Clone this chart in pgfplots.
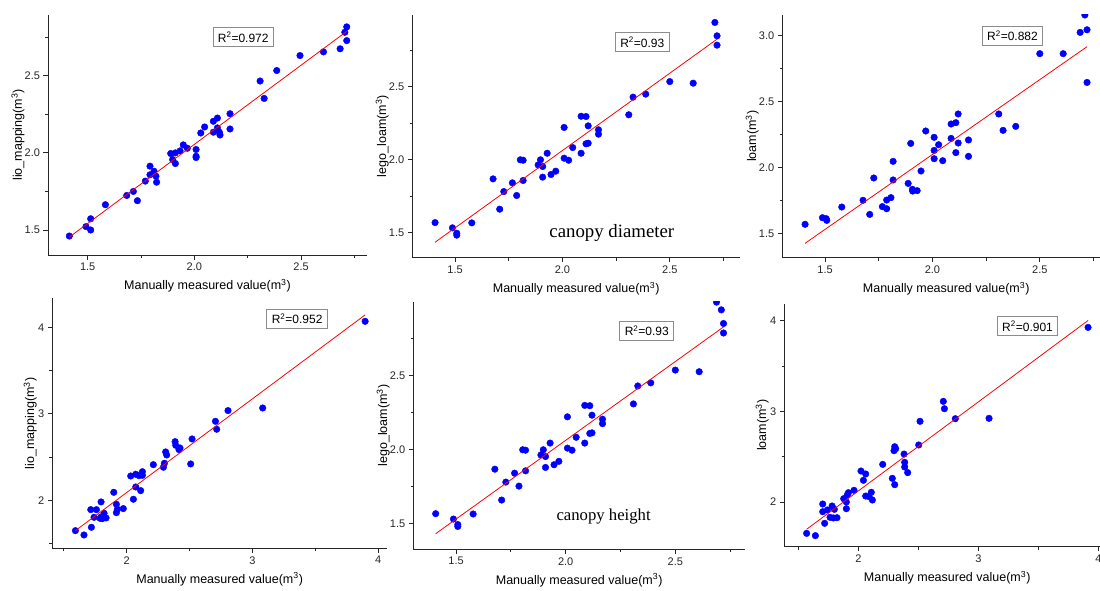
\documentclass[border=0pt]{standalone}
\usepackage{fontspec}
\setmainfont{Liberation Sans}
\newfontfamily\serifont{Liberation Serif}
\usepackage{pgfplots}
\usepackage{pgfplotstable}
\pgfplotsset{compat=1.18}

% lego_loam values, shared by the two middle panels
\pgfplotstableread{
x y
1.407 1.567
1.488 1.531
1.508 1.494
1.508 1.481
1.578 1.565
1.677 1.867
1.708 1.659
1.727 1.780
1.767 1.840
1.787 1.753
1.804 1.998
1.817 1.995
1.817 1.856
1.887 1.963
1.898 1.998
1.908 1.952
1.908 1.879
1.929 2.043
1.947 1.897
1.969 1.920
2.008 2.220
2.008 2.009
2.029 1.995
2.048 2.082
2.087 2.297
2.087 2.043
2.110 2.295
2.110 2.108
2.120 2.231
2.120 2.112
2.168 2.204
2.168 2.174
2.309 2.307
2.329 2.428
2.388 2.449
2.500 2.535
2.609 2.524
2.688 2.993
2.710 2.941
2.720 2.849
2.720 2.785
}\legodata

\newcommand\labfont{\fontsize{12.5}{14}\selectfont}
\newcommand\tickfont{\fontsize{11}{13}\selectfont}

\tikzset{
  rbox/.style={draw=black!45, fill=white, line width=0.8pt, font=\fontsize{12}{14}\selectfont,
    inner xsep=5pt, inner ysep=3pt, minimum height=19pt},
}

\pgfplotsset{
  panel/.style={
    scale only axis, anchor=south west,
    axis x line*=bottom, axis y line*=left,
    axis line style={line width=0.9pt, black!85, -},
    tick align=outside, major tick length=4.5pt, minor tick length=2.8pt,
    every tick/.style={line width=0.8pt, black!85},
    xticklabel style={font=\tickfont, text=black!85},
    yticklabel style={font=\tickfont, text=black!85},
    /pgf/number format/assume math mode=true,
    xlabel={Manually measured value(m\textsuperscript{3})},
    every axis x label/.style={at={(axis description cs:0.5,0)}, anchor=center, yshift=-31pt, font=\labfont},
    clip marker paths=true,
  },
  ylab/.style={every axis y label/.style={at={(axis description cs:0,0.5)}, anchor=center, xshift=#1, rotate=90, font=\labfont}},
  dec/.style={
    xtick={1.5,2.0,2.5}, minor xtick={1.25,1.75,2.25,2.75},
    xticklabel style={/pgf/number format/.cd, fixed, fixed zerofill, precision=1},
    yticklabel style={/pgf/number format/.cd, fixed, fixed zerofill, precision=1},
    ylab=-30pt,
  },
  whole/.style={
    xtick={2,3,4}, minor xtick={1.5,2.5,3.5},
    ytick={2,3,4}, minor ytick={1.5,2.5,3.5},
    ylab=-22pt,
  },
  pts/.style={only marks, mark=*, mark size=3.3pt, color=blue, mark options={draw=blue, fill=blue}},
  fit/.style={red, line width=0.8pt, no marks},
}

\begin{document}
\begin{tikzpicture}
\useasboundingbox (0pt,0pt) rectangle (1100pt,590pt);

% top left
\begin{axis}[panel, dec, at={(48pt,335pt)}, width=319pt, height=240pt,
  xmin=1.314, xmax=2.809, ymin=1.338, ymax=2.894,
  ytick={1.5,2.0,2.5}, minor ytick={1.75,2.25,2.75},
  ylabel={lio\_mapping(m\textsuperscript{3})}]
\addplot[pts] coordinates {
(1.414,1.461) (1.492,1.522) (1.514,1.573) (1.514,1.500) (1.583,1.664)
(1.683,1.724) (1.714,1.750) (1.733,1.690) (1.770,1.817) (1.792,1.914)
(1.792,1.858) (1.811,1.881) (1.820,1.849) (1.823,1.810) (1.889,1.996)
(1.898,1.957) (1.911,2.000) (1.911,1.931) (1.933,2.013) (1.948,2.052)
(1.967,2.030) (2.008,2.022) (2.008,1.978) (2.008,1.970) (2.030,2.129)
(2.048,2.168) (2.089,2.205) (2.089,2.134) (2.108,2.226) (2.108,2.162)
(2.117,2.134) (2.120,2.116) (2.167,2.254) (2.167,2.155) (2.308,2.466)
(2.327,2.353) (2.386,2.534) (2.495,2.631) (2.605,2.655) (2.683,2.675)
(2.705,2.782) (2.714,2.817) (2.714,2.728)
};
\addplot[fit] coordinates {(1.414,1.454) (2.714,2.788)};
\node[rbox] at (axis cs:2.229,2.749) {R\textsuperscript{2}=0.972};
\end{axis}

% top middle
\begin{axis}[panel, dec, at={(412.3pt,332.3pt)}, width=327.7pt, height=242.7pt,
  xmin=1.301, xmax=2.827, ymin=1.326, ymax=2.992,
  ytick={1.5,2.0,2.5}, minor ytick={1.75,2.25,2.75},
  ylabel={lego\_loam(m\textsuperscript{3})}]
\addplot[pts] table[x=x, y=y] {\legodata};
\addplot[fit] coordinates {(1.407,1.432) (2.720,2.826)};
\node[rbox] at (axis cs:2.372,2.805) {R\textsuperscript{2}=0.93};
\node[font=\serifont\fontsize{18.8}{20}\selectfont] at (axis cs:2.23,1.494) {canopy diameter};
\end{axis}

% top right
\begin{axis}[panel, dec, at={(782.3pt,332.3pt)}, width=327.7pt, height=242.7pt,
  xmin=1.301, xmax=2.827, ymin=1.318, ymax=3.157,
  ytick={1.5,2.0,2.5,3.0}, minor ytick={1.75,2.25,2.75},
  ylabel={loam(m\textsuperscript{3})}]
\addplot[pts] coordinates {
(1.407,1.571) (1.488,1.621) (1.505,1.614) (1.508,1.601) (1.578,1.702)
(1.677,1.753) (1.708,1.646) (1.727,1.922) (1.767,1.705) (1.787,1.755)
(1.787,1.689) (1.807,1.773) (1.817,2.048) (1.817,1.907) (1.887,1.881)
(1.899,2.184) (1.907,1.836) (1.908,1.823) (1.929,1.826) (1.947,1.975)
(1.969,2.278) (2.008,2.230) (2.008,2.131) (2.008,2.068) (2.029,2.174)
(2.048,2.053) (2.087,2.331) (2.087,2.222) (2.109,2.341) (2.109,2.114)
(2.120,2.407) (2.120,2.187) (2.168,2.210) (2.168,2.086) (2.309,2.407)
(2.329,2.283) (2.388,2.313) (2.500,2.864) (2.609,2.864) (2.688,3.025)
(2.710,3.157) (2.720,3.045) (2.720,2.646)
};
\addplot[fit] coordinates {(1.407,1.427) (2.720,2.917)};
\node[rbox] at (axis cs:2.373,3.0) {R\textsuperscript{2}=0.882};
\end{axis}

% bottom left
\begin{axis}[panel, whole, at={(52.3pt,41.7pt)}, width=334.7pt, height=250pt,
  xmin=1.408, xmax=4.071, ymin=1.445, ymax=4.335,
  ylabel={lio\_mapping(m\textsuperscript{3})}]
\addplot[pts] coordinates {
(1.592,1.649) (1.660,1.599) (1.714,1.892) (1.719,1.688) (1.740,1.803)
(1.759,1.892) (1.788,1.792) (1.796,1.981) (1.796,1.807) (1.806,1.788)
(1.820,1.850) (1.836,1.796) (1.897,2.092) (1.918,1.857) (1.918,1.954)
(1.926,1.896) (1.973,1.904) (2.032,2.281) (2.053,2.012) (2.072,2.301)
(2.072,2.154) (2.098,2.285) (2.111,2.112) (2.125,2.331) (2.125,2.289)
(2.212,2.412) (2.292,2.382) (2.300,2.428) (2.310,2.559) (2.318,2.524)
(2.385,2.678) (2.390,2.636) (2.416,2.586) (2.424,2.605) (2.509,2.420)
(2.520,2.709) (2.706,2.913) (2.716,2.821) (2.806,3.037) (3.082,3.067)
(3.897,4.069)
};
\addplot[fit] coordinates {(1.592,1.649) (3.897,4.143)};
\node[rbox] at (axis cs:3.356,4.098) {R\textsuperscript{2}=0.952};
\end{axis}

% bottom middle
\begin{axis}[panel, dec, at={(413.3pt,40.7pt)}, width=331.7pt, height=247.6pt,
  xmin=1.305, xmax=2.818, ymin=1.327, ymax=2.996,
  ytick={1.5,2.0,2.5}, minor ytick={1.75,2.25,2.75},
  ylabel={lego\_loam(m\textsuperscript{3})}]
\addplot[pts] table[x=x, y=y] {\legodata};
\addplot[fit] coordinates {(1.407,1.432) (2.720,2.826)};
\node[rbox] at (axis cs:2.37,2.802) {R\textsuperscript{2}=0.93};
\node[font=\serifont\fontsize{16.7}{18}\selectfont] at (axis cs:2.173,1.546) {canopy height};
\end{axis}

% bottom right
\begin{axis}[panel, whole, at={(784.3pt,43.3pt)}, width=325.7pt, height=242.7pt,
  xmin=1.383, xmax=4.097, ymin=1.507, ymax=4.184,
  ylabel={loam(m\textsuperscript{3})}]
\addplot[pts] coordinates {
(1.569,1.654) (1.642,1.629) (1.703,1.978) (1.703,1.893) (1.719,1.765)
(1.742,1.912) (1.764,1.831) (1.781,1.956) (1.792,1.824) (1.800,1.919)
(1.822,1.827) (1.878,2.037) (1.900,1.926) (1.900,2.000) (1.908,2.077)
(1.917,2.103) (1.964,2.129) (2.022,2.342) (2.042,2.239) (2.061,2.309)
(2.061,2.066) (2.089,2.059) (2.108,2.107) (2.117,2.022) (2.203,2.415)
(2.283,2.261) (2.297,2.566) (2.303,2.191) (2.303,2.610) (2.311,2.588)
(2.381,2.529) (2.386,2.438) (2.386,2.386) (2.411,2.324) (2.503,2.629)
(2.514,2.890) (2.708,3.110) (2.717,3.029) (2.808,2.919) (3.089,2.923)
(3.914,3.926)
};
\addplot[fit] coordinates {(1.569,1.699) (3.914,4.002)};
\node[rbox] at (axis cs:3.41,3.939) {R\textsuperscript{2}=0.901};
\end{axis}
\end{tikzpicture}
\end{document}
